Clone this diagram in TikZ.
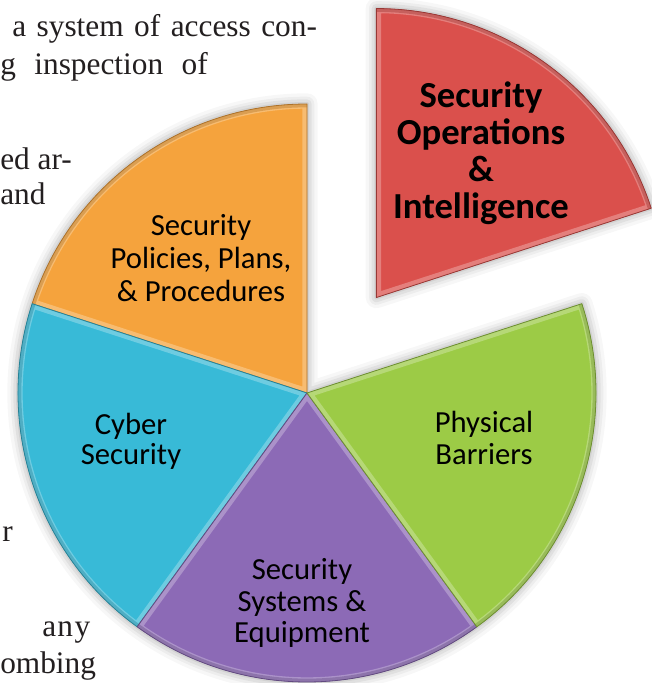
\documentclass[tikz,border=0pt]{standalone}
\usepackage{fontspec}
\newfontfamily\calibri{Carlito}
\newfontfamily\bodyfont{Liberation Serif}
\usetikzlibrary{calc}
\definecolor{bodytext}{HTML}{231F20}
\definecolor{sorange}{HTML}{F5A33D}
\definecolor{scyan}{HTML}{38BAD7}
\definecolor{spurple}{HTML}{8C6AB6}
\definecolor{sgreen}{HTML}{9CCB46}
\definecolor{sred}{HTML}{DA504C}
\newcommand\PieSlice[4]{%
  \fill[#4] (#1) -- ++(#2:289) arc[start angle=#2,end angle=#3,radius=289] -- cycle;
  \begin{scope}
    \clip (#1) -- ++(#2:289) arc[start angle=#2,end angle=#3,radius=289] -- cycle;
    \draw[#4!55!white, line width=7, line join=round, opacity=0.6] (#1) -- ++(#2:289) arc[start angle=#2,end angle=#3,radius=289] -- cycle;
    \draw[#4!75!black, line width=5, opacity=0.45] ($(#1)+(#2:289)$) arc[start angle=#2,end angle=#3,radius=289];
  \end{scope}
  \draw[#4!70!black, line width=0.6, line join=round] (#1) -- ++(#2:289) arc[start angle=#2,end angle=#3,radius=289] -- cycle;
}
\begin{document}
\begin{tikzpicture}[x=0.75pt,y=0.75pt]
\useasboundingbox (0,0) rectangle (652,683);
\fill[white] (0,0) rectangle (652,683);
% body text of the page
\begin{scope}[every node/.style={anchor=base west, inner sep=0, font=\bodyfont\fontsize{23.5}{28}\selectfont, text=bodytext}]
\node (t1) at (12,646) {a\hspace{2pt} system\hspace{2pt} of\hspace{2pt} access\hspace{2pt} con-};
\node (t2) at (0,608) {g\hspace{8pt} inspection\hspace{8pt} of};
\node (t3) at (0,513) {ed ar-};
\node (t4) at (0,478) {and};
\node (t5) at (2,141) {r};
\node (t6) at (42,46) {a\hspace{1pt}n\hspace{1pt}y};
\node (t7) at (0,10) {ombing};
\end{scope}
% pie
\coordinate (C) at (307,290);
\coordinate (A) at ($(C)+(54:118)$);
% soft shadow
\foreach \w/\o in {16/0.03,11/0.04,7/0.05,3/0.06}{
  \fill[black, opacity=\o, shift={(4,-5)}] (C) -- ++(90:289) arc[start angle=90,end angle=378,radius=289] -- cycle;
  \draw[black, opacity=\o, line width=\w, line join=round, shift={(4,-5)}] (C) -- ++(90:289) arc[start angle=90,end angle=378,radius=289] -- cycle;
  \fill[black, opacity=\o, shift={(4,-5)}] (A) -- ++(18:289) arc[start angle=18,end angle=90,radius=289] -- cycle;
  \draw[black, opacity=\o, line width=\w, line join=round, shift={(4,-5)}] (A) -- ++(18:289) arc[start angle=18,end angle=90,radius=289] -- cycle;
}
\PieSlice{C}{90}{162}{sorange}
\PieSlice{C}{162}{234}{scyan}
\PieSlice{C}{234}{306}{spurple}
\PieSlice{C}{306}{378}{sgreen}
\PieSlice{A}{18}{90}{sred}
% labels
\tikzset{lab/.style={font=\calibri\fontsize{23}{24}\selectfont, align=center, text=black, inner sep=0}}
\node[lab, font=\calibri\fontsize{23}{24.5}\selectfont] (lorange) at (201,425) {Security\\Policies, Plans,\\\& Procedures};
\node[lab, font=\calibri\fontsize{23}{22.5}\selectfont] (lcyan) at (131,242) {Cyber\\Security};
\node[lab, font=\calibri\fontsize{23}{23.6}\selectfont] (lpurple) at (302,80) {Security\\Systems \&\\Equipment};
\node[lab, font=\calibri\fontsize{23}{23.3}\selectfont] (lgreen) at (484,245) {Physical\\Barriers};
\node[lab, font=\calibri\bfseries\fontsize{27.5}{27.8}\selectfont] (lred) at (481,530) {Security\\Operations\\\&\\Intelligence};
\end{tikzpicture}
\end{document}
